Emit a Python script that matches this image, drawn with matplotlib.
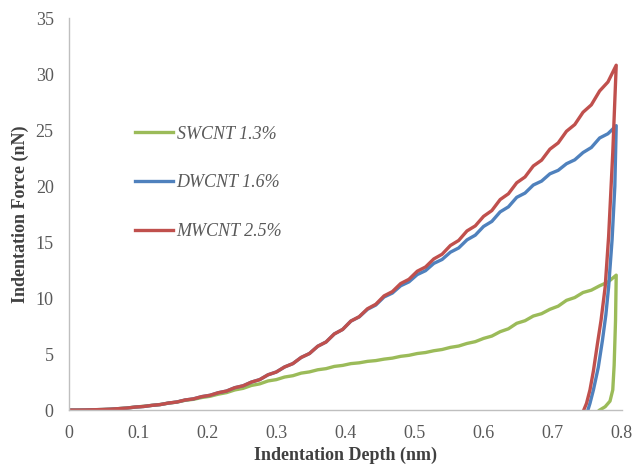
import matplotlib
matplotlib.use("Agg")
import matplotlib.pyplot as plt

# depth grid of the loading branch (nm)
depth_load = [0.0, 0.012, 0.024, 0.036, 0.048, 0.06, 0.072, 0.084, 0.096, 0.108,
              0.12, 0.132, 0.144, 0.156, 0.168, 0.18, 0.192, 0.204, 0.216, 0.228,
              0.24, 0.252, 0.264, 0.276, 0.288, 0.3, 0.312, 0.324, 0.336, 0.348,
              0.36, 0.372, 0.384, 0.396, 0.408, 0.42, 0.432, 0.444, 0.456, 0.468,
              0.48, 0.492, 0.504, 0.516, 0.528, 0.54, 0.552, 0.564, 0.576, 0.588,
              0.6, 0.612, 0.624, 0.636, 0.648, 0.66, 0.672, 0.684, 0.696, 0.708,
              0.72, 0.732, 0.744, 0.756, 0.768, 0.78, 0.792]

sw_load = [0.0, 0.0, 0.01, 0.03, 0.05, 0.08, 0.13, 0.19, 0.27, 0.34,
           0.42, 0.5, 0.62, 0.71, 0.87, 0.96, 1.12, 1.23, 1.42, 1.56,
           1.8, 1.94, 2.2, 2.34, 2.6, 2.72, 2.95, 3.07, 3.3, 3.41,
           3.6, 3.7, 3.9, 3.99, 4.15, 4.22, 4.35, 4.42, 4.55, 4.64,
           4.8, 4.89, 5.05, 5.14, 5.3, 5.41, 5.6, 5.72, 5.95, 6.11,
           6.4, 6.61, 7.0, 7.26, 7.75, 7.98, 8.4, 8.61, 9.0, 9.28,
           9.8, 10.05, 10.5, 10.71, 11.1, 11.43, 12.05]

dw_load = [0.0, 0.0, 0.01, 0.03, 0.05, 0.08, 0.13, 0.18, 0.27, 0.32,
           0.42, 0.49, 0.63, 0.72, 0.9, 1.0, 1.2, 1.32, 1.55, 1.7,
           2.0, 2.17, 2.5, 2.72, 3.15, 3.4, 3.85, 4.15, 4.7, 5.05,
           5.7, 6.08, 6.8, 7.2, 7.95, 8.32, 9.0, 9.38, 10.1, 10.45,
           11.1, 11.45, 12.1, 12.45, 13.1, 13.45, 14.1, 14.48, 15.2, 15.62,
           16.4, 16.85, 17.7, 18.15, 19.0, 19.38, 20.1, 20.45, 21.1, 21.41,
           22.0, 22.35, 23.0, 23.45, 24.3, 24.68, 25.4]

mw_load = [0.0, 0.0, 0.01, 0.03, 0.05, 0.08, 0.13, 0.18, 0.27, 0.32,
           0.42, 0.49, 0.63, 0.72, 0.9, 1.0, 1.2, 1.32, 1.55, 1.7,
           2.0, 2.17, 2.5, 2.72, 3.15, 3.4, 3.85, 4.15, 4.7, 5.05,
           5.7, 6.08, 6.8, 7.2, 7.95, 8.34, 9.05, 9.45, 10.2, 10.58,
           11.3, 11.68, 12.4, 12.78, 13.5, 13.92, 14.7, 15.15, 16.0, 16.45,
           17.3, 17.82, 18.8, 19.32, 20.3, 20.82, 21.8, 22.32, 23.3, 23.86,
           24.9, 25.5, 26.6, 27.26, 28.5, 29.3, 30.8]

# unloading branches
sw_unload_x = [0.791, 0.789, 0.787, 0.783, 0.776, 0.768]
sw_unload_y = [8.0, 4.0, 1.8, 0.8, 0.3, 0.0]
dw_unload_x = [0.79, 0.786, 0.781, 0.777, 0.772, 0.766, 0.759, 0.754, 0.751]
dw_unload_y = [20.0, 15.2, 11.0, 8.5, 6.2, 3.8, 1.8, 0.6, 0.0]
mw_unload_x = [0.787, 0.781, 0.776, 0.77, 0.765, 0.759, 0.754, 0.749, 0.745]
mw_unload_y = [23.0, 15.5, 11.0, 8.0, 6.0, 3.5, 1.8, 0.6, 0.0]

labels = ["SWCNT 1.3%", "DWCNT 1.6%", "MWCNT 2.5%"]
colors = ["#9BBB59", "#4F81BD", "#C0504D"]

plt.rcParams['font.family'] = ['Liberation Serif', 'DejaVu Serif']

fig = plt.figure(figsize=(6.39, 4.66), dpi=100)
ax = fig.add_axes([0.108, 0.12, 0.865, 0.841])

series = [
    (depth_load + sw_unload_x, sw_load + sw_unload_y),
    (depth_load + dw_unload_x, dw_load + dw_unload_y),
    (depth_load + mw_unload_x, mw_load + mw_unload_y),
]
for (x, y), lab, c in zip(series, labels, colors):
    ax.plot(x, y, color=c, lw=2.4, label=lab, solid_joinstyle='round')

ax.set_xlim(0, 0.8)
ax.set_ylim(0, 35)
ax.set_xticks([0, 0.1, 0.2, 0.3, 0.4, 0.5, 0.6, 0.7, 0.8])
ax.set_xticklabels(["0", "0.1", "0.2", "0.3", "0.4", "0.5", "0.6", "0.7", "0.8"])
ax.set_yticks(range(0, 36, 5))
ax.tick_params(length=0, labelsize=13, labelcolor="#595959")
ax.tick_params(axis='y', pad=11)
ax.tick_params(axis='x', pad=11)

for s in ['top', 'right']:
    ax.spines[s].set_visible(False)
for s in ['left', 'bottom']:
    ax.spines[s].set_color("#BFBFBF")
    ax.spines[s].set_linewidth(1.0)

ax.set_xlabel("Indentation Depth (nm)", fontsize=13, fontweight='bold', color="#404040", labelpad=3)
ax.set_ylabel("Indentation Force (nN)", fontsize=13, fontweight='bold', color="#404040", labelpad=5)

leg = ax.legend(loc='upper left', bbox_to_anchor=(0.09, 0.767), frameon=False,
                handlelength=2.1, handletextpad=0.2, labelspacing=1.75,
                prop={'style': 'italic', 'size': 13})
for t in leg.get_texts():
    t.set_color("#595959")

fig.savefig("out.png", dpi=100)
